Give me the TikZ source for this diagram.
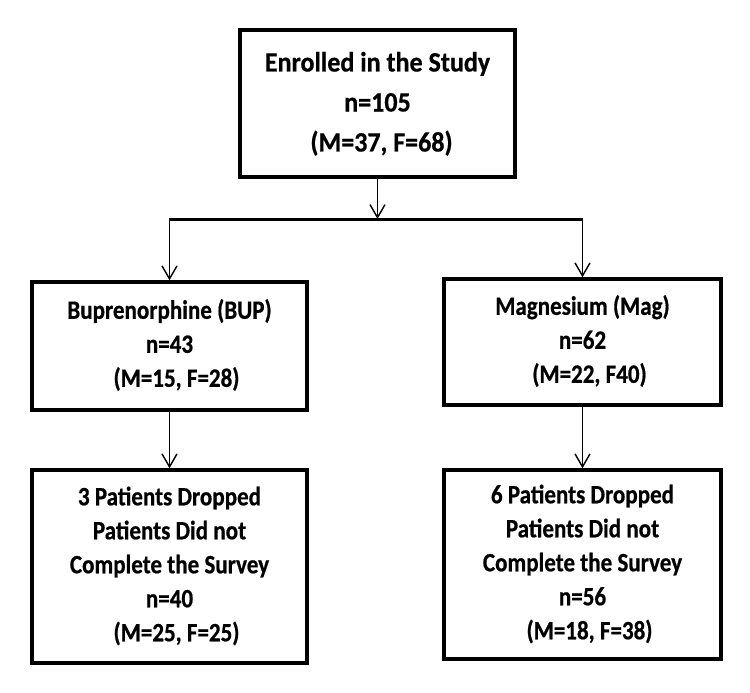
\documentclass[tikz,border=0pt]{standalone}
\usepackage{fontspec}
\setmainfont{Carlito}
\newfontfamily\topfont{Carlito}[FakeStretch=0.93,FakeBold=0.6]
\newfontfamily\boxfont{Carlito}[FakeStretch=0.87,FakeBold=0.6]
\usetikzlibrary{arrows.meta}
\newcommand{\lines}[2]{\raisebox{#1}{\begin{tabular}{@{}c@{}}#2\end{tabular}}}
\begin{document}
\begin{tikzpicture}[x=1pt,y=-1pt,
  box/.style={draw=black,line width=3.5pt,inner sep=0pt,align=center,
    font={\boxfont\bfseries\fontsize{26.5}{34}\selectfont}},
  topbox/.style={box,font={\topfont\bfseries\fontsize{28}{40}\selectfont}},
  conn/.style={line width=1.4pt,-{Straight Barb[length=13pt,width=15pt,line width=1.4pt]}},
  bar/.style={line width=3pt}]
\useasboundingbox (0,0) rectangle (750,693);
\node[topbox,minimum width=275pt,minimum height=147pt] (top) at (377.5,103.5)
  {\lines{6pt}{Enrolled in the Study\\ n=105\\ \hspace*{8pt}(M=37, F=68)}};
\node[box,minimum width=275pt,minimum height=128pt] (bup) at (169.5,346)
  {\lines{-1pt}{Buprenorphine (BUP)\\ n=43\\ \hspace*{14pt}(M=15, F=28)}};
\node[box,minimum width=277pt,minimum height=126pt] (mag) at (582.5,342)
  {\lines{-1pt}{Magnesium (Mag)\\ n=62\\ \hspace*{14pt}(M=22, F40)}};
\node[box,minimum width=275pt,minimum height=193pt] (bupd) at (169.5,566.5)
  {\lines{-4pt}{3 Patients Dropped\\ Patients Did not\\ Complete the Survey\\ n=40\\ \hspace*{14pt}(M=25, F=25)}};
\node[box,minimum width=277pt,minimum height=189pt] (magd) at (582.5,564.5)
  {\lines{-3pt}{6 Patients Dropped\\ Patients Did not\\ Complete the Survey\\ n=56\\ \hspace*{14pt}(M=18, F=38)}};
\coordinate (j) at (377.5,219);
\coordinate (jl) at (169.5,219);
\coordinate (jr) at (582.5,219);
\draw[bar] ([xshift=-0.7pt]jl) -- ([xshift=0.7pt]jr);
\draw[conn] (top.south) -- (j);
\draw[conn] (jl) -- (bup.north);
\draw[conn] (jr) -- (mag.north);
\draw[conn] (bup.south) -- (bupd.north);
\draw[conn] (mag.south) -- (magd.north);
\end{tikzpicture}
\end{document}
